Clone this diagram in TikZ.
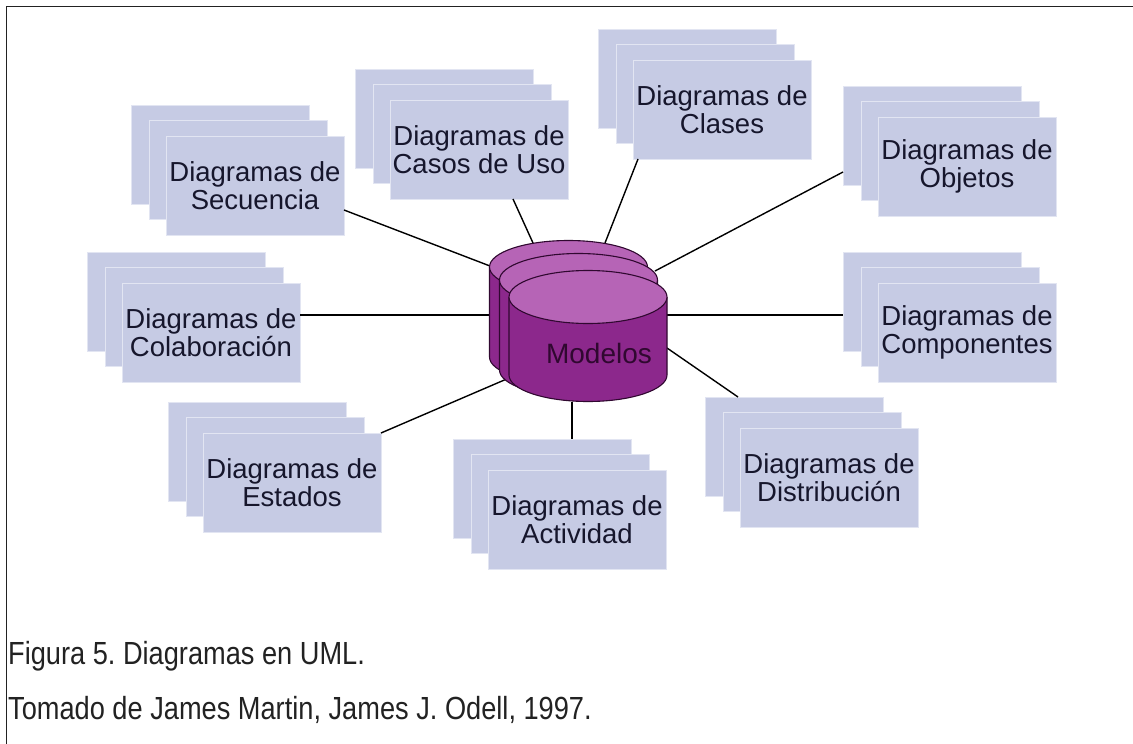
\documentclass[tikz,border=0pt]{standalone}
\usepackage{fontspec}
\setmainfont{Liberation Sans}
\newfontfamily\captionfont[FakeStretch=0.85]{Liberation Sans}
\usetikzlibrary{calc}
\frenchspacing

\definecolor{sheetfill}{RGB}{198,203,228}
\definecolor{sheetedge}{RGB}{226,229,242}
\definecolor{ink}{RGB}{22,22,44}
\definecolor{cylbody}{RGB}{140,40,140}
\definecolor{cyltop}{RGB}{182,100,182}
\definecolor{cyledge}{RGB}{48,8,48}
\definecolor{captionink}{RGB}{34,34,34}

\tikzset{
  sheet/.style={draw=sheetedge, line width=0.8pt, fill=sheetfill,
    minimum width=178pt, minimum height=99pt, inner sep=0pt, outer sep=0pt,
    anchor=north west, text=ink, align=center,
    font=\fontsize{27.5}{28.5}\selectfont},
  link/.style={line width=1.4pt, black},
  caption/.style={anchor=base west, inner sep=0pt, text=captionink,
    font=\captionfont\fontsize{32}{34}\selectfont},
}

% three stacked sheets; #1 name, #2/#3 top-left corner of the front sheet
\newcommand{\umlstack}[4]{%
  \node[sheet] (#1-3) at ({#2-35},{-(#3-31)}) {};
  \node[sheet] (#1-2) at ({#2-17},{-(#3-16)}) {};
  \node[sheet] (#1)   at ({#2},{-#3}) {#4};
}

% one cylinder; #1 name, #2 centre x, #3 top y, #4 bottom y
\newcommand{\umlcyl}[4]{%
  \fill[cylbody] ({#2-79},{-#3}) -- ({#2-79},{-#4})
    arc[start angle=180, end angle=360, x radius=79, y radius=26.5]
    -- ({#2+79},{-#3}) -- cycle;
  \draw[cyledge, line width=1.1pt] ({#2-79},{-#3}) -- ({#2-79},{-#4})
    arc[start angle=180, end angle=360, x radius=79, y radius=26.5]
    -- ({#2+79},{-#3});
  \draw[cyledge, line width=1.1pt, fill=cyltop] ({#2},{-#3})
    ellipse[x radius=79, y radius=26.5];
  \coordinate (#1) at ({#2},{-#3});
}

\begin{document}
\begin{tikzpicture}[x=1pt, y=1pt]
  \useasboundingbox (0,0) rectangle (1133,-744);

  % frame
  \draw[line width=1.8pt, captionink] (6.5,-744) -- (6.5,-6.5) -- (1133,-6.5);

  % diagram stacks
  \umlstack{sec}{166}{136}{Diagramas de\\Secuencia}
  \umlstack{cas}{390}{100}{Diagramas de\\Casos de Uso}
  \umlstack{cla}{633}{60}{Diagramas de\\Clases}
  \umlstack{obj}{878}{117}{Diagramas de\\Objetos}
  \umlstack{col}{122}{283}{Diagramas de\\Colaboración}
  \umlstack{com}{878}{283}{Diagramas de\\Componentes}
  \umlstack{est}{203}{433}{Diagramas de\\Estados}
  \umlstack{act}{488}{470}{Diagramas de\\Actividad}
  \umlstack{dis}{740}{428}{Diagramas de\\Distribución}

  % attachment points on the model store
  \coordinate (m-sec) at (490,-266);
  \coordinate (m-cas) at (533,-243);
  \coordinate (m-cla) at (605,-243);
  \coordinate (m-obj) at (655,-271);
  \coordinate (m-col) at (490,-315);
  \coordinate (m-com) at (667,-315);
  \coordinate (m-est) at (509,-378);
  \coordinate (m-act) at (572,-402);
  \coordinate (m-dis) at (667,-348);

  % connectors
  \draw[link] ($(sec.south east)+(0,25)$) -- (m-sec);
  \draw[link] ($(cas.south)+(34,0)$) -- (m-cas);
  \draw[link] ($(cla.south west)+(5,0)$) -- (m-cla);
  \draw[link] ($(obj-3.south west)+(0,13)$) -- (m-obj);
  \draw[link] (col.east |- m-col) -- (m-col);
  \draw[link] (m-com) -- (com-3.west |- m-com);
  \draw[link] (est.north east) -- (m-est);
  \draw[link] (m-act) -- (act-3.north -| m-act);
  \draw[link] (m-dis) -- ($(dis-3.north west)+(33,0)$);

  % model store
  \umlcyl{mod-3}{568.5}{267}{357}
  \umlcyl{mod-2}{578.5}{280}{370}
  \umlcyl{mod}{588}{297}{375}
  \node[text=cyledge, font=\fontsize{28}{28}\selectfont, inner sep=0pt]
    (modlabel) at (599,-353) {Modelos};

  % caption
  \node[caption] (cap1) at (8,-664) {Figura 5. Diagramas en UML.};
  \node[caption] (cap2) at (8,-719) {Tomado de James Martin, James J. Odell, 1997.};
\end{tikzpicture}
\end{document}
